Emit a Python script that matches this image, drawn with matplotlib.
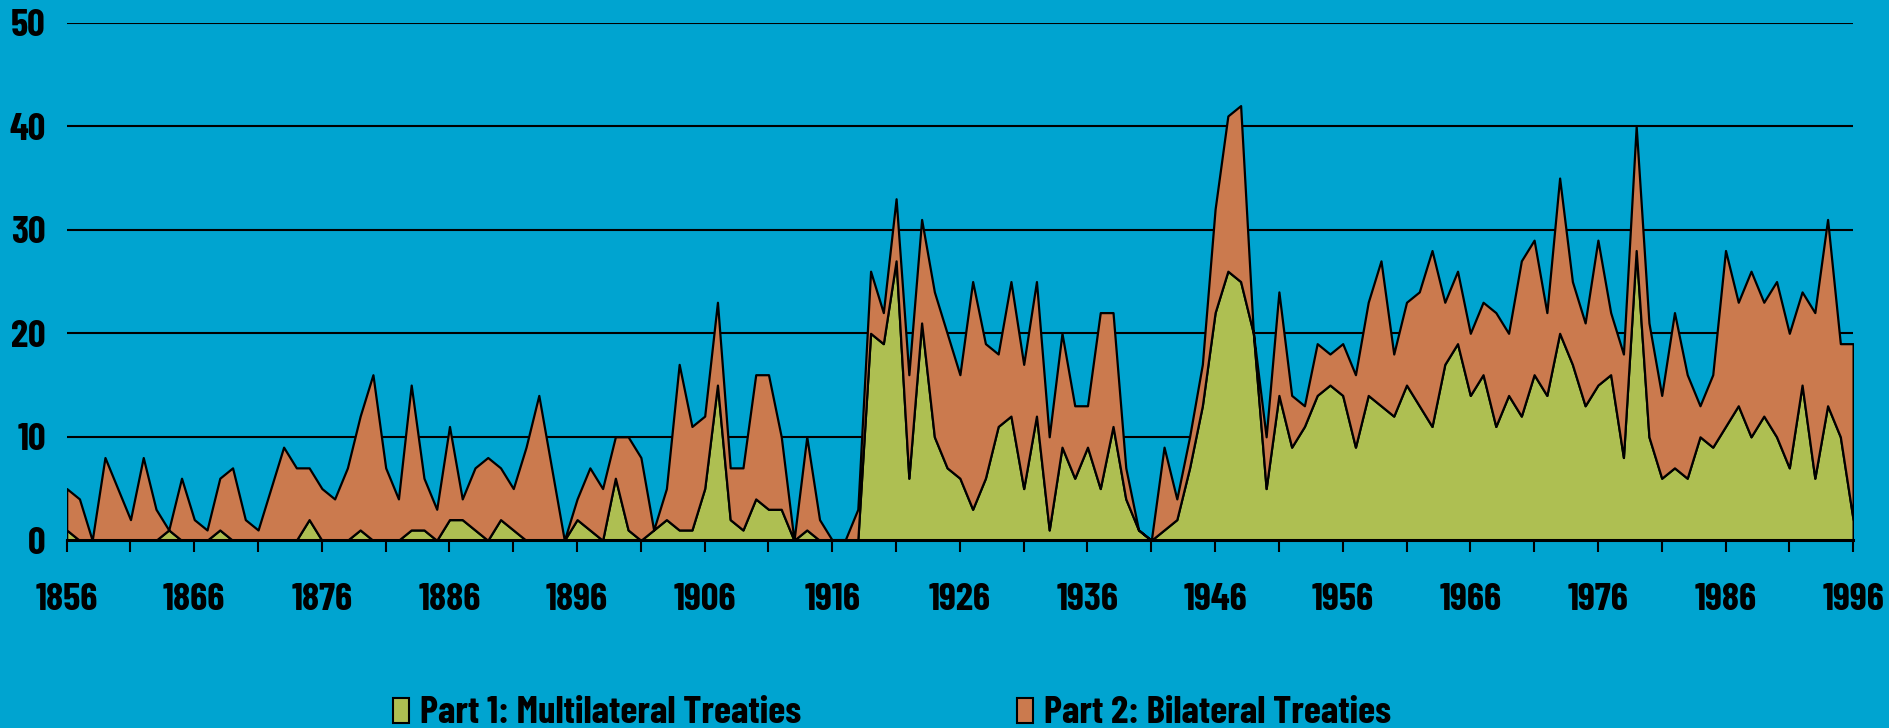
import numpy as np
import matplotlib.pyplot as plt
from matplotlib.patches import Rectangle

plt.rcParams['font.family'] = ['Barlow Condensed', 'DejaVu Sans']
plt.rcParams['font.weight'] = 'bold'

years = np.arange(1856, 1997)

# Part 1: multilateral treaties per year
multilateral = [
    1, 0, 0, 0, 0, 0, 0, 0, 1, 0,
    0, 0, 1, 0, 0, 0, 0, 0, 0, 2,
    0, 0, 0, 1, 0, 0, 0, 1, 1, 0,
    2, 2, 1, 0, 2, 1, 0, 0, 0, 0,
    2, 1, 0, 6, 1, 0, 1, 2, 1, 1,
    5, 15, 2, 1, 4, 3, 3, 0, 1, 0,
    0, 0, 0, 20, 19, 27, 6, 21, 10, 7,
    6, 3, 6, 11, 12, 5, 12, 1, 9, 6,
    9, 5, 11, 4, 1, 0, 1, 2, 7, 13,
    22, 26, 25, 20, 5, 14, 9, 11, 14, 15,
    14, 9, 14, 13, 12, 15, 13, 11, 17, 19,
    14, 16, 11, 14, 12, 16, 14, 20, 17, 13,
    15, 16, 8, 28, 10, 6, 7, 6, 10, 9,
    11, 13, 10, 12, 10, 7, 15, 6, 13, 10,
    2,
]

# Part 2: bilateral treaties per year
bilateral = [
    4, 4, 0, 8, 5, 2, 8, 3, 0, 6,
    2, 1, 5, 7, 2, 1, 5, 9, 7, 5,
    5, 4, 7, 11, 16, 7, 4, 14, 5, 3,
    9, 2, 6, 8, 5, 4, 9, 14, 7, 0,
    2, 6, 5, 4, 9, 8, 0, 3, 16, 10,
    7, 8, 5, 6, 12, 13, 7, 0, 9, 2,
    0, 0, 3, 6, 3, 6, 10, 10, 14, 13,
    10, 22, 13, 7, 13, 12, 13, 9, 11, 7,
    4, 17, 11, 3, 0, 0, 8, 2, 3, 4,
    10, 15, 17, 0, 5, 10, 5, 2, 5, 3,
    5, 7, 9, 14, 6, 8, 11, 17, 6, 7,
    6, 7, 11, 6, 15, 13, 8, 15, 8, 8,
    14, 6, 10, 12, 11, 8, 15, 10, 3, 7,
    17, 10, 16, 11, 15, 13, 9, 16, 18, 9,
    17,
]

labels = ['Part 1: Multilateral Treaties', 'Part 2: Bilateral Treaties']
colors = ['#AEBF52', '#CB7A4E']
bg = '#00A4D0'
fs = 28

fig = plt.figure(figsize=(18.89, 7.28), dpi=100, facecolor=bg)
ax = fig.add_axes([0.0353, 0.2578, 0.9457, 0.7109])
ax.set_facecolor(bg)

ax.stackplot(years, multilateral, bilateral, colors=colors,
             edgecolor='black', linewidth=1.6, zorder=3)

ax.set_xlim(1856, 1996)
ax.set_ylim(0, 50)
ax.set_yticks(range(0, 51, 10))
ax.yaxis.grid(True, color='black', linewidth=1.5, zorder=1)
ax.set_axisbelow(True)

ax.set_xticks(range(1856, 1997, 10))
ax.set_xticks(range(1861, 1997, 10), minor=True)
ax.tick_params(axis='x', which='both', length=8.5, width=1.5, color='black',
               direction='out', pad=22, labelsize=fs)
ax.tick_params(axis='y', length=0, pad=15, labelsize=fs)

for s in ['top', 'right', 'left']:
    ax.spines[s].set_visible(False)
ax.spines['bottom'].set_linewidth(2.2)
ax.spines['bottom'].set_zorder(5)

# legend drawn below the plot
W, H = 1889, 728
leg_x = [393, 1017]
for x0, lab, c in zip(leg_x, labels, colors):
    fig.patches.append(Rectangle((x0 / W, 5 / H), 16 / W, 25 / H,
                                 transform=fig.transFigure, facecolor=c,
                                 edgecolor='black', linewidth=1.5))
    fig.text((x0 + 27) / W, 5 / H, lab, fontsize=fs, fontweight='bold',
             va='baseline', ha='left')

fig.savefig('out.png', dpi=100, facecolor=bg)
